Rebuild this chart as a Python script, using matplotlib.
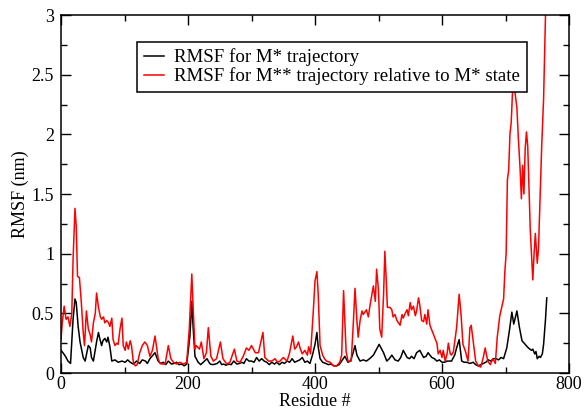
import matplotlib
matplotlib.use('Agg')
import matplotlib.pyplot as plt
from matplotlib.ticker import MultipleLocator

plt.rcParams['font.family'] = ['Liberation Serif', 'DejaVu Serif']
plt.rcParams['mathtext.fontset'] = 'stix'

# RMSF for M* trajectory (residue, nm)
res_m1 = [0, 3, 7, 11, 15, 19, 22, 24, 27, 30, 35, 38, 43, 46, 48, 51, 56, 59, 61, 64,
          66, 69, 72, 74, 77, 80, 85, 90, 96, 101, 105, 109, 114, 119, 124, 128, 133, 136, 140, 148,
          153, 157, 161, 165, 169, 174, 178, 182, 186, 190, 194, 198, 203, 206, 208, 211, 216, 220, 224, 230,
          233, 235, 239, 243, 246, 250, 253, 256, 260, 264, 268, 272, 277, 281, 285, 288, 292, 296, 300, 304,
          308, 312, 316, 320, 324, 328, 332, 336, 340, 344, 348, 352, 356, 360, 364, 368, 372, 376, 380, 384,
          388, 392, 396, 400, 403, 405, 408, 412, 417, 421, 425, 430, 434, 438, 442, 447, 452, 456, 460, 463,
          466, 471, 476, 481, 486, 492, 497, 501, 505, 508, 513, 517, 521, 526, 531, 535, 539, 545, 549, 552,
          556, 560, 565, 571, 575, 578, 584, 588, 592, 596, 600, 604, 608, 612, 615, 620, 623, 627, 631, 635,
          639, 644, 649, 653, 657, 661, 665, 669, 673, 677, 681, 685, 689, 693, 697, 702, 706, 710, 713, 718,
          722, 726, 731, 736, 741, 743, 746, 748, 750, 753, 755, 758, 760, 763, 765]
rmsf_m1 = [0.19, 0.17, 0.14, 0.10, 0.08, 0.45, 0.62, 0.59, 0.39, 0.26, 0.13, 0.10, 0.23, 0.21, 0.13, 0.10, 0.26, 0.34, 0.29, 0.23,
           0.27, 0.29, 0.26, 0.30, 0.22, 0.10, 0.11, 0.09, 0.10, 0.09, 0.11, 0.09, 0.075, 0.10, 0.08, 0.11, 0.10, 0.08, 0.12, 0.17,
           0.10, 0.08, 0.09, 0.07, 0.10, 0.075, 0.08, 0.09, 0.07, 0.075, 0.06, 0.075, 0.31, 0.60, 0.39, 0.14, 0.09, 0.07, 0.09, 0.12,
           0.09, 0.075, 0.07, 0.075, 0.08, 0.10, 0.07, 0.075, 0.065, 0.075, 0.07, 0.10, 0.075, 0.08, 0.09, 0.08, 0.12, 0.10, 0.10, 0.09,
           0.13, 0.10, 0.12, 0.10, 0.09, 0.07, 0.09, 0.075, 0.09, 0.07, 0.09, 0.08, 0.10, 0.09, 0.12, 0.09, 0.10, 0.11, 0.13, 0.09,
           0.10, 0.08, 0.15, 0.24, 0.34, 0.22, 0.12, 0.09, 0.08, 0.07, 0.075, 0.06, 0.06, 0.07, 0.10, 0.14, 0.09, 0.10, 0.17, 0.23,
           0.15, 0.10, 0.11, 0.10, 0.12, 0.15, 0.20, 0.24, 0.20, 0.17, 0.10, 0.12, 0.15, 0.11, 0.10, 0.13, 0.19, 0.13, 0.12, 0.14,
           0.12, 0.17, 0.19, 0.13, 0.14, 0.17, 0.13, 0.12, 0.10, 0.11, 0.09, 0.09, 0.10, 0.10, 0.10, 0.15, 0.21, 0.28, 0.10, 0.09,
           0.09, 0.08, 0.09, 0.07, 0.06, 0.07, 0.08, 0.09, 0.11, 0.10, 0.12, 0.12, 0.11, 0.13, 0.12, 0.21, 0.35, 0.51, 0.41, 0.52,
           0.38, 0.27, 0.24, 0.21, 0.19, 0.20, 0.16, 0.18, 0.12, 0.14, 0.13, 0.16, 0.24, 0.45, 0.63]

# RMSF for M** trajectory relative to M* state
res_m2 = [0, 2, 5, 8, 11, 14, 17, 19, 22, 24, 26, 29, 32, 35, 37, 40, 43, 46, 48, 51,
          54, 56, 59, 62, 64, 67, 69, 72, 75, 77, 80, 82, 85, 88, 90, 93, 96, 98, 101, 103,
          106, 109, 111, 114, 117, 120, 124, 128, 132, 136, 140, 144, 148, 151, 153, 156, 159, 164, 169, 173,
          177, 182, 187, 193, 198, 202, 206, 208, 211, 213, 218, 221, 225, 229, 232, 236, 240, 245, 251, 255,
          261, 266, 273, 277, 282, 287, 292, 296, 300, 306, 311, 318, 321, 327, 332, 337, 341, 345, 350, 356,
          360, 365, 368, 371, 374, 377, 380, 384, 388, 390, 393, 397, 400, 403, 405, 408, 412, 415, 418, 424,
          429, 434, 439, 442, 445, 447, 449, 452, 457, 460, 463, 466, 468, 471, 474, 476, 481, 484, 487, 489,
          492, 495, 497, 500, 502, 505, 508, 510, 512, 514, 518, 521, 523, 526, 529, 534, 537, 539, 542, 545,
          547, 550, 552, 555, 558, 560, 563, 565, 568, 571, 573, 576, 578, 581, 586, 589, 592, 594, 597, 600,
          602, 605, 608, 610, 613, 615, 618, 621, 623, 627, 630, 633, 637, 641, 644, 646, 649, 653, 657, 661,
          665, 668, 672, 676, 680, 684, 687, 691, 694, 697, 699, 701, 703, 705, 707, 709, 711, 712, 715, 718,
          720, 723, 725, 727, 729, 731, 733, 735, 737, 739, 741, 743, 745, 747, 750, 752, 754, 757, 760, 763,
          766]
rmsf_m2 = [0.28, 0.42, 0.56, 0.45, 0.47, 0.39, 0.50, 0.95, 1.38, 1.23, 0.81, 0.80, 0.59, 0.34, 0.23, 0.52, 0.37, 0.32, 0.26, 0.42,
           0.50, 0.67, 0.55, 0.47, 0.45, 0.47, 0.42, 0.44, 0.42, 0.39, 0.46, 0.28, 0.23, 0.25, 0.24, 0.37, 0.46, 0.23, 0.19, 0.26,
           0.20, 0.27, 0.23, 0.09, 0.06, 0.07, 0.17, 0.23, 0.26, 0.23, 0.14, 0.19, 0.31, 0.20, 0.12, 0.08, 0.075, 0.075, 0.23, 0.12,
           0.09, 0.075, 0.09, 0.075, 0.09, 0.37, 0.83, 0.56, 0.20, 0.23, 0.20, 0.26, 0.12, 0.17, 0.38, 0.14, 0.10, 0.12, 0.26, 0.12,
           0.075, 0.09, 0.20, 0.10, 0.09, 0.14, 0.21, 0.19, 0.23, 0.17, 0.17, 0.34, 0.13, 0.10, 0.10, 0.12, 0.09, 0.10, 0.13, 0.10,
           0.17, 0.31, 0.20, 0.22, 0.26, 0.20, 0.16, 0.19, 0.15, 0.22, 0.16, 0.49, 0.77, 0.85, 0.67, 0.23, 0.15, 0.12, 0.10, 0.09,
           0.06, 0.06, 0.09, 0.15, 0.69, 0.44, 0.18, 0.10, 0.10, 0.38, 0.71, 0.44, 0.30, 0.44, 0.52, 0.49, 0.53, 0.47, 0.58, 0.64,
           0.73, 0.60, 0.87, 0.69, 0.37, 0.30, 0.66, 1.02, 0.80, 0.55, 0.55, 0.53, 0.47, 0.49, 0.44, 0.40, 0.49, 0.46, 0.50, 0.53,
           0.48, 0.59, 0.53, 0.56, 0.48, 0.52, 0.63, 0.57, 0.44, 0.43, 0.49, 0.41, 0.53, 0.40, 0.33, 0.29, 0.25, 0.16, 0.19, 0.13,
           0.19, 0.10, 0.16, 0.25, 0.16, 0.15, 0.18, 0.30, 0.38, 0.66, 0.49, 0.24, 0.18, 0.10, 0.38, 0.40, 0.27, 0.10, 0.06, 0.05,
           0.13, 0.21, 0.10, 0.07, 0.12, 0.08, 0.30, 0.48, 0.55, 0.62, 0.85, 1.00, 1.62, 1.70, 2.00, 2.10, 2.35, 2.45, 2.35, 2.22,
           1.99, 1.71, 1.46, 1.74, 1.50, 1.88, 2.02, 1.90, 1.54, 1.20, 0.99, 0.78, 1.00, 1.17, 0.92, 1.05, 1.39, 1.90, 2.30, 3.00,
           3.30]

labels = ['RMSF for M* trajectory', 'RMSF for M** trajectory relative to M* state']

fig = plt.figure(figsize=(5.84, 4.12), dpi=100, facecolor='white')
ax = fig.add_axes([61 / 584, 39 / 412, 508 / 584, 358 / 412])

ax.plot(res_m1, rmsf_m1, color='black', linewidth=1.1, label=labels[0])
ax.plot(res_m2, rmsf_m2, color='#ff0000', linewidth=1.1, label=labels[1])

ax.set_xlim(0, 800)
ax.set_ylim(0, 3)
ax.xaxis.set_major_locator(MultipleLocator(200))
ax.xaxis.set_minor_locator(MultipleLocator(100))
ax.yaxis.set_minor_locator(MultipleLocator(0.25))
ax.set_yticks([0, 0.5, 1, 1.5, 2, 2.5, 3])
ax.set_yticklabels(['0', '0.5', '1', '1.5', '2', '2.5', '3'])
ax.tick_params(which='both', direction='in', top=True, right=True, width=1.0)
ax.tick_params(which='major', length=7, labelsize=13)
ax.tick_params(which='minor', length=4)
ax.tick_params(axis='y', pad=5)
ax.tick_params(axis='x', pad=2)
for s in ax.spines.values():
    s.set_linewidth(1.1)

ax.set_xlabel('Residue #', fontsize=13, labelpad=0)
ax.set_ylabel('RMSF (nm)', fontsize=13, labelpad=2)

leg = ax.legend(loc='upper left', bbox_to_anchor=(0.150, 0.925), borderaxespad=0,
                fontsize=13.6, frameon=True, fancybox=False, handlelength=1.05,
                handletextpad=0.55, labelspacing=0.05, borderpad=0.35)
leg.get_frame().set_edgecolor('black')
leg.get_frame().set_linewidth(1.1)
leg.get_frame().set_alpha(1)

fig.savefig('out.png', dpi=100, facecolor='white')
